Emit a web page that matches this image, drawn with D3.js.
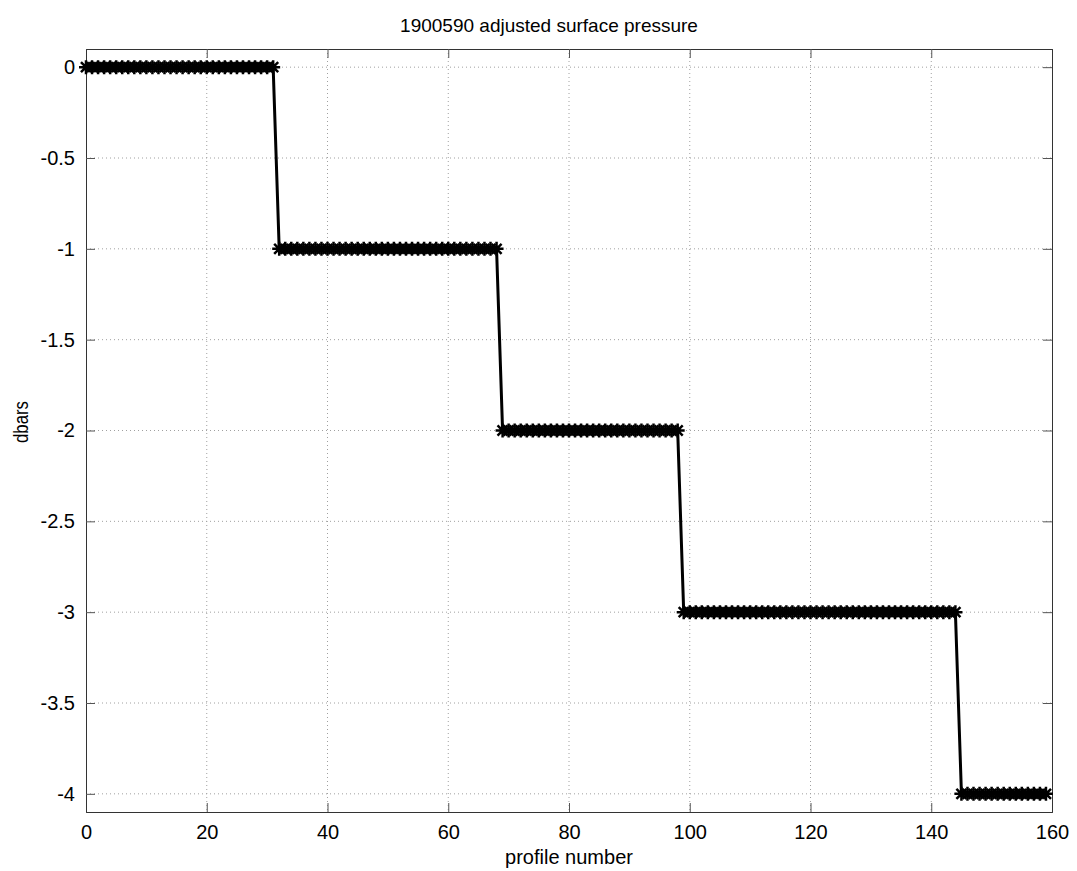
<!DOCTYPE html>
<html><head><meta charset="utf-8">
<script src="https://cdn.jsdelivr.net/npm/d3@7"></script>
<style>body{margin:0;background:#fff}svg{display:block}text{font-family:"Liberation Sans",Arial,sans-serif;fill:#000}</style>
</head><body><svg id="c" width="1077" height="871"></svg>
<script>
const title = "1900590 adjusted surface pressure";
const xLabel = "profile number";
const yLabel = "dbars";
const xTicks = [0,20,40,60,80,100,120,140,160];
const yTicks = [0,-0.5,-1,-1.5,-2,-2.5,-3,-3.5,-4];
// steps: first profile, last profile, value
const stepStarts = [0,32,69,99,145];
const stepEnds = [31,68,98,144,159];
const stepValues = [0,-1,-2,-3,-4];

const data = [];
stepStarts.forEach((s,i)=>{ for(let p=s;p<=stepEnds[i];p++) data.push({x:p,y:stepValues[i]}); });

const svg = d3.select("#c");
const L=86,R=1052,T=49,B=812;
const x = d3.scaleLinear().domain([0,160]).range([L,R]);
const y = d3.scaleLinear().domain([-4.1,0.1]).range([B,T]);

svg.append("rect").attr("x",L).attr("y",T).attr("width",R-L).attr("height",B-T).attr("fill","#fff");
// grid
const g = svg.append("g");
g.selectAll(".gx").data(xTicks.filter(t=>t>0&&t<160)).enter().append("line")
 .attr("x1",d=>x(d)).attr("x2",d=>x(d)).attr("y1",T).attr("y2",B)
 .attr("stroke","#a0a0a0").attr("stroke-width",1).attr("stroke-dasharray","1,3");
g.selectAll(".gy").data(yTicks).enter().append("line")
 .attr("y1",d=>y(d)).attr("y2",d=>y(d)).attr("x1",L).attr("x2",R)
 .attr("stroke","#a0a0a0").attr("stroke-width",1).attr("stroke-dasharray","1,3");

// axes
const fmt = d=> d===0?"0":String(d);
const axB = svg.append("g").attr("transform",`translate(0,${B})`).call(d3.axisBottom(x).tickValues(xTicks).tickSize(-9).tickPadding(13).tickFormat(fmt));
const axT = svg.append("g").attr("transform",`translate(0,${T})`).call(d3.axisTop(x).tickValues(xTicks).tickSize(-9).tickFormat(""));
const axL = svg.append("g").attr("transform",`translate(${L},0)`).call(d3.axisLeft(y).tickValues(yTicks).tickSize(-9).tickPadding(11).tickFormat(fmt));
const axR = svg.append("g").attr("transform",`translate(${R},0)`).call(d3.axisRight(y).tickValues(yTicks).tickSize(-9).tickFormat(""));
[axB,axT,axL,axR].forEach(a=>{a.selectAll("path").attr("stroke","#333").attr("stroke-width",1);a.selectAll("line").attr("stroke","#555");a.selectAll("text").style("font-size","20px").style("font-family","Liberation Sans, Arial, sans-serif");});

// line
svg.append("path").datum(data).attr("d",d3.line().x(d=>x(d.x)).y(d=>y(d.y)))
 .attr("fill","none").attr("stroke","#000").attr("stroke-width",3);
// asterisk markers
const r=7, rd=r*0.72;
const star = `M${-r},0L${r},0M0,${-r}L0,${r}M${-rd},${-rd}L${rd},${rd}M${-rd},${rd}L${rd},${-rd}`;
svg.append("g").selectAll("path").data(data).enter().append("path")
 .attr("transform",d=>`translate(${x(d.x)},${y(d.y)})`).attr("d",star)
 .attr("stroke","#000").attr("stroke-width",2.5).attr("fill","none");

svg.append("text").attr("x",549).attr("y",32).attr("text-anchor","middle").style("font-size","19px").text(title);
svg.append("text").attr("x",(L+R)/2).attr("y",864).attr("text-anchor","middle").style("font-size","20px").text(xLabel);
svg.append("text").attr("transform",`translate(28,422) rotate(-90)`).attr("text-anchor","middle")
 .style("font-size","20px").attr("textLength",42).attr("lengthAdjust","spacingAndGlyphs").text(yLabel);
</script></body></html>
